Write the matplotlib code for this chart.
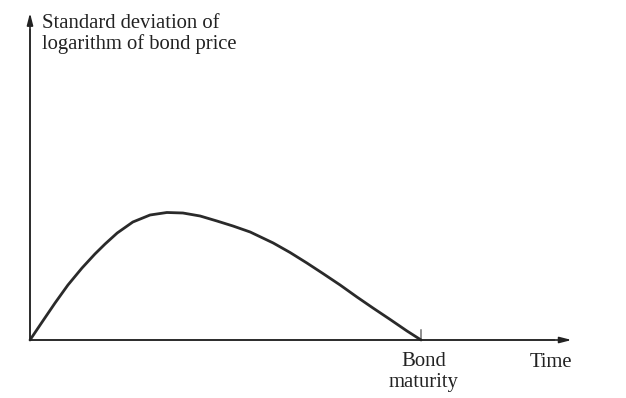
import matplotlib.pyplot as plt

# time (bond matures at t = 10) and std dev of log bond price, arbitrary units
t = [0, 0.31, 0.64, 0.97, 1.33, 1.66, 1.92, 2.23, 2.63, 3.07, 3.50, 3.91,
     4.35, 4.78, 5.19, 5.63, 6.22, 6.65, 7.08, 7.49, 7.93, 8.36, 8.77,
     9.21, 9.64, 10.0]
sigma = [0, 0.18, 0.37, 0.55, 0.72, 0.86, 0.96, 1.07, 1.18, 1.25, 1.275,
         1.27, 1.24, 1.19, 1.14, 1.08, 0.97, 0.875, 0.77, 0.665, 0.55,
         0.43, 0.32, 0.205, 0.09, 0]
maturity = 10.0

plt.rcParams['font.family'] = ['Liberation Serif', 'DejaVu Serif']

fig = plt.figure(figsize=(6.26, 3.98), dpi=100)
ax = fig.add_axes([0, 0, 1, 1])
ax.set_xlim(-0.767, 15.24)
ax.set_ylim(-0.58, 3.40)
ax.axis('off')

axis_col = '#707070'
head = dict(arrowstyle='-|>,head_length=0.7,head_width=0.18',
            color='#222222', lw=1.2, shrinkA=0, shrinkB=0)
ax.annotate('', xy=(0, 3.27), xytext=(0, 0), arrowprops=head)
ax.annotate('', xy=(13.85, 0), xytext=(0, 0), arrowprops=head)
ax.plot([0, 0], [0, 3.1], color=axis_col, lw=1.4)
ax.plot([0, 13.4], [0, 0], color=axis_col, lw=1.4)

# maturity tick
ax.plot([maturity, maturity], [0, 0.1], color=axis_col, lw=1.1)

ax.plot(t, sigma, color='#2a2a2a', lw=2.0, solid_joinstyle='round',
        solid_capstyle='round')

txt = dict(fontsize=14.9, color='#222222', va='baseline')
ax.text(0.31, 3.12, 'Standard deviation of', ha='left', **txt)
ax.text(0.31, 2.91, 'logarithm of bond price', ha='left', **txt)
ax.text(10.06, -0.26, 'Bond', ha='center', **txt)
ax.text(10.06, -0.47, 'maturity', ha='center', **txt)
ax.text(13.31, -0.27, 'Time', ha='center', **txt)

fig.savefig('out.png', dpi=100)
